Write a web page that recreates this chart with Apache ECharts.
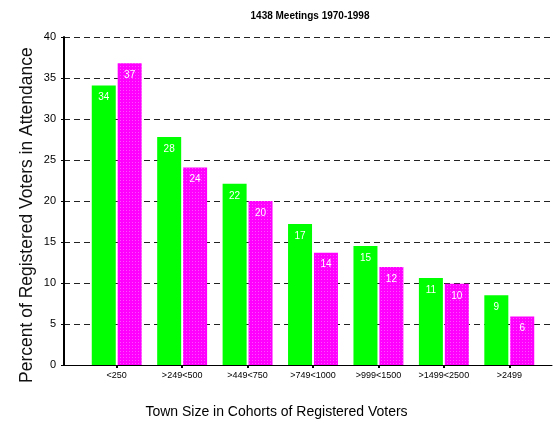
<!DOCTYPE html>
<html><head><meta charset="utf-8">
<script src="https://cdn.jsdelivr.net/npm/echarts@6/dist/echarts.min.js"></script>
<style>html,body{margin:0;padding:0;background:#fff}#c{width:553px;height:431px}</style>
</head><body><div id="c"></div>
<script>
var categories = ['<250', '>249<500', '>449<750', '>749<1000', '>999<1500', '>1499<2500', '>2499'];
var seriesA = [34.1, 27.8, 22.1, 17.2, 14.5, 10.6, 8.5];
var seriesB = [36.8, 24.1, 20.0, 13.7, 11.95, 9.9, 5.9];
var yTicks = {min: 0, max: 40, interval: 5};
var titleText = '1438 Meetings 1970-1998';
var yTitle = 'Percent of Registered Voters in Attendance';
var xTitle = 'Town Size in Cohorts of Registered Voters';

var chart = echarts.init(document.getElementById('c'));
var lbl = {show: true, position: 'insideTop', distance: 7, color: '#fff', fontSize: 10,
  fontFamily: 'Liberation Sans, Arial', formatter: function(p){return Math.round(p.value);}};
chart.setOption({
  animation: false,
  title: {text: titleText, left: 305, top: 6, textAlign: 'center',
    textStyle: {fontSize: 10, fontWeight: 'bold', color: '#000', fontFamily: 'Liberation Sans, Arial'}},
  graphic: [
    {type: 'text', left: 'center', top: 405, style: {text: xTitle, fontSize: 14, fill: '#000', fontFamily: 'Liberation Sans, Arial'}},
    {type: 'text', rotation: Math.PI/2, x: 18, y: 383, style: {text: yTitle, fontSize: 17.5, fill: '#111', fontFamily: 'Liberation Sans, Arial'}}
  ],
  grid: [
    {left: 64, right: 1, top: 37, bottom: 66},
    {left: 84, right: 11, top: 37, bottom: 66}
  ],
  xAxis: [
    {gridIndex: 0, type: 'category', data: [''], axisLine: {lineStyle: {color: '#000', width: 1}},
      axisTick: {show: false}, axisLabel: {show: false}},
    {gridIndex: 1, type: 'category', data: categories, axisLine: {show: false},
      axisTick: {show: true, alignWithLabel: true, length: 3, lineStyle: {color: '#000', width: 2}},
      axisLabel: {fontSize: 9, color: '#000', margin: 6, fontFamily: 'Liberation Sans, Arial', interval: 0}}
  ],
  yAxis: [
    {gridIndex: 0, type: 'value', min: yTicks.min, max: yTicks.max, interval: yTicks.interval,
      axisLine: {show: true, lineStyle: {color: '#000', width: 2}},
      axisTick: {show: true, length: 3, lineStyle: {color: '#000'}},
      axisLabel: {fontSize: 11, color: '#000', margin: 8, fontFamily: 'Liberation Sans, Arial'},
      splitLine: {show: true, lineStyle: {color: '#222', type: [6, 4], width: 1}}},
    {gridIndex: 1, type: 'value', min: yTicks.min, max: yTicks.max, show: false, splitLine: {show: false}}
  ],
  series: [
    {type: 'bar', xAxisIndex: 1, yAxisIndex: 1, data: seriesA, barWidth: 24, barGap: '8%',
      itemStyle: {color: '#00ff00'}, label: lbl},
    {type: 'bar', xAxisIndex: 1, yAxisIndex: 1, data: seriesB, barWidth: 24, barGap: '8%',
      itemStyle: {color: '#ff00ff', decal: {symbol: 'rect', symbolSize: 1, dashArrayX: [1, 2], dashArrayY: [1, 2], rotation: 0, color: 'rgba(255,255,255,0.3)'}},
      label: lbl}
  ]
});
</script></body></html>
